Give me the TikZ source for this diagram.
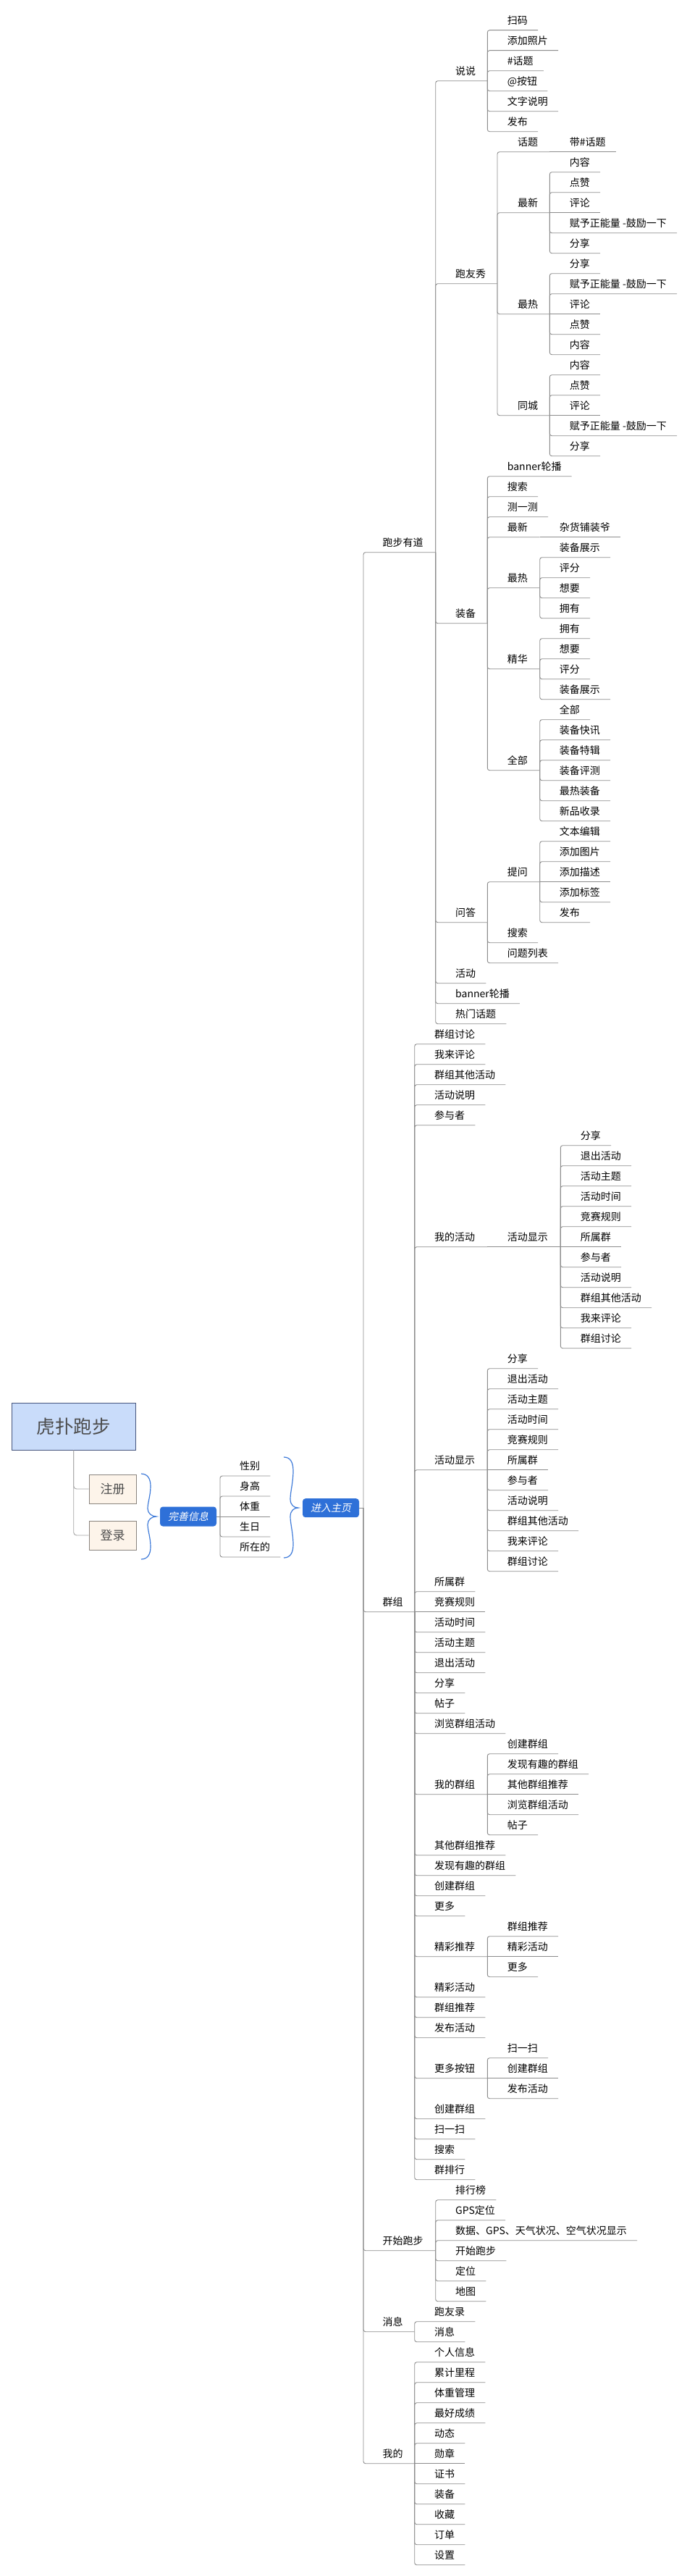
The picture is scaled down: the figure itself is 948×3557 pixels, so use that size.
\documentclass[tikz,border=0pt]{standalone}
\usepackage{fontspec}
\newfontfamily\cjk{Noto Sans CJK SC}
\newfontfamily\cjkit{Noto Sans CJK SC}[FakeSlant=0.2]
\definecolor{lgray}{HTML}{8C8C8C}
\definecolor{rootfill}{HTML}{C9DCFA}
\definecolor{rootdraw}{HTML}{46557E}
\definecolor{regfill}{HTML}{FDF4EA}
\definecolor{regdraw}{HTML}{8A847E}
\definecolor{bluebox}{HTML}{2E70D8}
\definecolor{bracecol}{HTML}{3F7BD9}
\newcommand\ROW[1]{41.7+28*(#1)}
% leaf with rounded corner
\newcommand\lf[5]{%
  \node[lbl] (#1) at (#3,{#4-8.4}) {#5};
  \coordinate (#1-e) at ([xshift=14pt,yshift=-8.4pt]#1.base east);
  \draw[conn] (#2-j) |- (#1-e);}
% leaf on the parent's line
\newcommand\lfs[5]{%
  \node[lbl] (#1) at (#3,{#4-8.4}) {#5};
  \coordinate (#1-e) at ([xshift=14pt,yshift=-8.4pt]#1.base east);
  \draw[conn] (#2-j) -- (#1-e);}
% parent with rounded corner
\newcommand\pn[6]{%
  \node[lbl] (#1) at (#3,{#4-8.4}) {#6};
  \coordinate (#1-j) at (#5,{#4});
  \draw[conn] (#2-j) |- (#1-j);}
% parent on the parent's line
\newcommand\pns[6]{%
  \node[lbl] (#1) at (#3,{#4-8.4}) {#6};
  \coordinate (#1-j) at (#5,{#4});
  \draw[conn] (#2-j) -- (#1-j);}
\begin{document}
\begin{tikzpicture}[x=1pt,y=-1pt,
  lbl/.style={anchor=base west,inner sep=0pt,font=\cjk\fontsize{14pt}{14pt}\selectfont},
  conn/.style={draw=lgray,line width=0.9pt,rounded corners=3pt},
  rootconn/.style={draw=lgray!80,line width=0.9pt,rounded corners=4pt},
  rootbox/.style={draw=rootdraw,fill=rootfill,line width=0.9pt,minimum width=171.5pt,minimum height=65pt,inner sep=0pt,text=black!70,font=\cjk\fontsize{25.5pt}{26pt}\selectfont},
  regbox/.style={draw=regdraw,fill=regfill,line width=0.9pt,minimum width=65pt,minimum height=40pt,inner sep=0pt,text=black!70,font=\cjk\fontsize{17pt}{17pt}\selectfont},
  bluenode/.style={fill=bluebox,rounded corners=4pt,minimum width=78pt,minimum height=27pt,inner sep=0pt,text=white,font=\cjkit\fontsize{14pt}{14pt}\selectfont},
  bracestyle/.style={draw=bracecol,line width=1.2pt}]
\fill[white] (0,0) rectangle (948,3557);
\useasboundingbox (0,0) rectangle (948,3557);

% ---- left part ----
\node[rootbox] (root) at (101.75,1969.5) {虎扑跑步};
\node[regbox] (reg) at (155.5,2056) {注册};
\node[regbox] (login) at (155.5,2120) {登录};
\draw[rootconn] (root.south) |- (reg.west);
\draw[rootconn] (root.south) |- (login.west);
\draw[bracestyle] (195,2035) .. controls (204,2035) and (208,2042) .. (208,2052)
  .. controls (208,2065) and (204,2075) .. (204,2083)
  .. controls (204,2090) and (210,2094) .. (216,2094)
  .. controls (210,2094) and (204,2098) .. (204,2105)
  .. controls (204,2113) and (208,2123) .. (208,2136)
  .. controls (208,2146) and (204,2153) .. (195,2153);
\node[bluenode] (wsx) at (260,2094) {完善信息};
\coordinate (wsx-j) at (304,2094);
\draw[conn] (wsx.east) -- (wsx-j);
\lf{xb}{wsx}{331}{2038}{性别}
\lf{sg}{wsx}{331}{2066}{身高}
\lfs{tz}{wsx}{331}{2094}{体重}
\lf{sr}{wsx}{331}{2122}{生日}
\lf{szd}{wsx}{331}{2150}{所在的}
\draw[bracestyle] (392,2012) .. controls (401,2012) and (405,2019) .. (405,2031)
  .. controls (405,2047) and (401,2060) .. (401,2070)
  .. controls (401,2078) and (406,2082) .. (412,2082)
  .. controls (406,2082) and (401,2086) .. (401,2094)
  .. controls (401,2104) and (405,2117) .. (405,2133)
  .. controls (405,2144) and (401,2151) .. (392,2151);
\node[bluenode,minimum height=26pt] (home) at (457,{\ROW{72.875}}) {进入主页};
\coordinate (home-j) at (502,{\ROW{72.875}});
\draw[conn] (home.east) -- (home-j);

% ---- 跑步有道 ----
\pn{pbyd}{home}{528.3}{\ROW{25.75}}{601.7}{跑步有道}
 \pn{ss}{pbyd}{629}{\ROW{2.5}}{673.3}{说说}
  \lf{ssa}{ss}{700.7}{\ROW{0}}{扫码}
  \lf{ssb}{ss}{700.7}{\ROW{1}}{添加照片}
  \lf{ssc}{ss}{700.7}{\ROW{2}}{\#话题}
  \lf{ssd}{ss}{700.7}{\ROW{3}}{@按钮}
  \lf{sse}{ss}{700.7}{\ROW{4}}{文字说明}
  \lf{ssf}{ss}{700.7}{\ROW{5}}{发布}
 \pn{pyx}{pbyd}{629}{\ROW{12.5}}{687}{跑友秀}
  \pn{ht}{pyx}{715}{\ROW{6}}{759.3}{话题}
   \lfs{hta}{ht}{786.7}{\ROW{6}}{带\#话题}
  \pn{zx}{pyx}{715}{\ROW{9}}{759.3}{最新}
   \lf{zxa}{zx}{786.7}{\ROW{7}}{内容}
   \lf{zxb}{zx}{786.7}{\ROW{8}}{点赞}
   \lfs{zxc}{zx}{786.7}{\ROW{9}}{评论}
   \lf{zxd}{zx}{786.7}{\ROW{10}}{赋予正能量 -鼓励一下}
   \lf{zxe}{zx}{786.7}{\ROW{11}}{分享}
  \pn{zr}{pyx}{715}{\ROW{14}}{759.3}{最热}
   \lf{zra}{zr}{786.7}{\ROW{12}}{分享}
   \lf{zrb}{zr}{786.7}{\ROW{13}}{赋予正能量 -鼓励一下}
   \lfs{zrc}{zr}{786.7}{\ROW{14}}{评论}
   \lf{zrd}{zr}{786.7}{\ROW{15}}{点赞}
   \lf{zre}{zr}{786.7}{\ROW{16}}{内容}
  \pn{tc}{pyx}{715}{\ROW{19}}{759.3}{同城}
   \lf{tca}{tc}{786.7}{\ROW{17}}{内容}
   \lf{tcb}{tc}{786.7}{\ROW{18}}{点赞}
   \lfs{tcc}{tc}{786.7}{\ROW{19}}{评论}
   \lf{tcd}{tc}{786.7}{\ROW{20}}{赋予正能量 -鼓励一下}
   \lf{tce}{tc}{786.7}{\ROW{21}}{分享}
 \pn{zb}{pbyd}{629}{\ROW{29.25}}{673.3}{装备}
  \lf{zba}{zb}{700.7}{\ROW{22}}{banner轮播}
  \lf{zbb}{zb}{700.7}{\ROW{23}}{搜索}
  \lf{zbc}{zb}{700.7}{\ROW{24}}{测一测}
  \pn{zbzx}{zb}{700.7}{\ROW{25}}{745.7}{最新}
   \lfs{zbzxa}{zbzx}{772.7}{\ROW{25}}{杂货铺装爷}
  \pn{zbzr}{zb}{700.7}{\ROW{27.5}}{745.7}{最热}
   \lf{zbzra}{zbzr}{772.7}{\ROW{26}}{装备展示}
   \lf{zbzrb}{zbzr}{772.7}{\ROW{27}}{评分}
   \lf{zbzrc}{zbzr}{772.7}{\ROW{28}}{想要}
   \lf{zbzrd}{zbzr}{772.7}{\ROW{29}}{拥有}
  \pn{jh}{zb}{700.7}{\ROW{31.5}}{745.7}{精华}
   \lf{jha}{jh}{772.7}{\ROW{30}}{拥有}
   \lf{jhb}{jh}{772.7}{\ROW{31}}{想要}
   \lf{jhc}{jh}{772.7}{\ROW{32}}{评分}
   \lf{jhd}{jh}{772.7}{\ROW{33}}{装备展示}
  \pn{qb}{zb}{700.7}{\ROW{36.5}}{745.7}{全部}
   \lf{qba}{qb}{772.7}{\ROW{34}}{全部}
   \lf{qbb}{qb}{772.7}{\ROW{35}}{装备快讯}
   \lf{qbc}{qb}{772.7}{\ROW{36}}{装备特辑}
   \lf{qbd}{qb}{772.7}{\ROW{37}}{装备评测}
   \lf{qbe}{qb}{772.7}{\ROW{38}}{最热装备}
   \lf{qbf}{qb}{772.7}{\ROW{39}}{新品收录}
 \pn{wd}{pbyd}{629}{\ROW{44}}{673.3}{问答}
  \pn{tw}{wd}{700.7}{\ROW{42}}{745.7}{提问}
   \lf{twa}{tw}{772.7}{\ROW{40}}{文本编辑}
   \lf{twb}{tw}{772.7}{\ROW{41}}{添加图片}
   \lfs{twc}{tw}{772.7}{\ROW{42}}{添加描述}
   \lf{twd}{tw}{772.7}{\ROW{43}}{添加标签}
   \lf{twe}{tw}{772.7}{\ROW{44}}{发布}
  \lf{wda}{wd}{700.7}{\ROW{45}}{搜索}
  \lf{wdb}{wd}{700.7}{\ROW{46}}{问题列表}
 \lf{pba}{pbyd}{629}{\ROW{47}}{活动}
 \lf{pbb}{pbyd}{629}{\ROW{48}}{banner轮播}
 \lf{pbc}{pbyd}{629}{\ROW{49}}{热门话题}

% ---- 群组 ----
\pn{qz}{home}{528.3}{\ROW{78}}{572.7}{群组}
 \lf{qza}{qz}{600}{\ROW{50}}{群组讨论}
 \lf{qzb}{qz}{600}{\ROW{51}}{我来评论}
 \lf{qzc}{qz}{600}{\ROW{52}}{群组其他活动}
 \lf{qzd}{qz}{600}{\ROW{53}}{活动说明}
 \lf{qze}{qz}{600}{\ROW{54}}{参与者}
 \pn{wdhd}{qz}{600}{\ROW{60}}{673.3}{我的活动}
  \pns{xsa}{wdhd}{700.7}{\ROW{60}}{774.3}{活动显示}
   \lf{xsa1}{xsa}{801.7}{\ROW{55}}{分享}
   \lf{xsa2}{xsa}{801.7}{\ROW{56}}{退出活动}
   \lf{xsa3}{xsa}{801.7}{\ROW{57}}{活动主题}
   \lf{xsa4}{xsa}{801.7}{\ROW{58}}{活动时间}
   \lf{xsa5}{xsa}{801.7}{\ROW{59}}{竞赛规则}
   \lfs{xsa6}{xsa}{801.7}{\ROW{60}}{所属群}
   \lf{xsa7}{xsa}{801.7}{\ROW{61}}{参与者}
   \lf{xsa8}{xsa}{801.7}{\ROW{62}}{活动说明}
   \lf{xsa9}{xsa}{801.7}{\ROW{63}}{群组其他活动}
   \lf{xsa10}{xsa}{801.7}{\ROW{64}}{我来评论}
   \lf{xsa11}{xsa}{801.7}{\ROW{65}}{群组讨论}
 \pn{xsb}{qz}{600}{\ROW{71}}{673.3}{活动显示}
  \lf{xsb1}{xsb}{700.7}{\ROW{66}}{分享}
  \lf{xsb2}{xsb}{700.7}{\ROW{67}}{退出活动}
  \lf{xsb3}{xsb}{700.7}{\ROW{68}}{活动主题}
  \lf{xsb4}{xsb}{700.7}{\ROW{69}}{活动时间}
  \lf{xsb5}{xsb}{700.7}{\ROW{70}}{竞赛规则}
  \lfs{xsb6}{xsb}{700.7}{\ROW{71}}{所属群}
  \lf{xsb7}{xsb}{700.7}{\ROW{72}}{参与者}
  \lf{xsb8}{xsb}{700.7}{\ROW{73}}{活动说明}
  \lf{xsb9}{xsb}{700.7}{\ROW{74}}{群组其他活动}
  \lf{xsb10}{xsb}{700.7}{\ROW{75}}{我来评论}
  \lf{xsb11}{xsb}{700.7}{\ROW{76}}{群组讨论}
 \lf{qzf}{qz}{600}{\ROW{77}}{所属群}
 \lfs{qzg}{qz}{600}{\ROW{78}}{竞赛规则}
 \lf{qzh}{qz}{600}{\ROW{79}}{活动时间}
 \lf{qzi}{qz}{600}{\ROW{80}}{活动主题}
 \lf{qzj}{qz}{600}{\ROW{81}}{退出活动}
 \lf{qzk}{qz}{600}{\ROW{82}}{分享}
 \lf{qzl}{qz}{600}{\ROW{83}}{帖子}
 \lf{qzm}{qz}{600}{\ROW{84}}{浏览群组活动}
 \pn{wdqz}{qz}{600}{\ROW{87}}{673.3}{我的群组}
  \lf{wdqza}{wdqz}{700.7}{\ROW{85}}{创建群组}
  \lf{wdqzb}{wdqz}{700.7}{\ROW{86}}{发现有趣的群组}
  \lfs{wdqzc}{wdqz}{700.7}{\ROW{87}}{其他群组推荐}
  \lf{wdqzd}{wdqz}{700.7}{\ROW{88}}{浏览群组活动}
  \lf{wdqze}{wdqz}{700.7}{\ROW{89}}{帖子}
 \lf{qzn}{qz}{600}{\ROW{90}}{其他群组推荐}
 \lf{qzo}{qz}{600}{\ROW{91}}{发现有趣的群组}
 \lf{qzp}{qz}{600}{\ROW{92}}{创建群组}
 \lf{qzq}{qz}{600}{\ROW{93}}{更多}
 \pn{jctj}{qz}{600}{\ROW{95}}{673.3}{精彩推荐}
  \lf{jctja}{jctj}{700.7}{\ROW{94}}{群组推荐}
  \lfs{jctjb}{jctj}{700.7}{\ROW{95}}{精彩活动}
  \lf{jctjc}{jctj}{700.7}{\ROW{96}}{更多}
 \lf{qzr}{qz}{600}{\ROW{97}}{精彩活动}
 \lf{qzs}{qz}{600}{\ROW{98}}{群组推荐}
 \lf{qzt}{qz}{600}{\ROW{99}}{发布活动}
 \pn{gdan}{qz}{600}{\ROW{101}}{673.3}{更多按钮}
  \lf{gdana}{gdan}{700.7}{\ROW{100}}{扫一扫}
  \lfs{gdanb}{gdan}{700.7}{\ROW{101}}{创建群组}
  \lf{gdanc}{gdan}{700.7}{\ROW{102}}{发布活动}
 \lf{qzu}{qz}{600}{\ROW{103}}{创建群组}
 \lf{qzv}{qz}{600}{\ROW{104}}{扫一扫}
 \lf{qzw}{qz}{600}{\ROW{105}}{搜索}
 \lf{qzx}{qz}{600}{\ROW{106}}{群排行}

% ---- 开始跑步 ----
\pn{kspb}{home}{528.3}{\ROW{109.5}}{601.7}{开始跑步}
 \lf{kspba}{kspb}{629}{\ROW{107}}{排行榜}
 \lf{kspbb}{kspb}{629}{\ROW{108}}{GPS定位}
 \lf{kspbc}{kspb}{629}{\ROW{109}}{数据、GPS、天气状况、空气状况显示}
 \lf{kspbd}{kspb}{629}{\ROW{110}}{开始跑步}
 \lf{kspbe}{kspb}{629}{\ROW{111}}{定位}
 \lf{kspbf}{kspb}{629}{\ROW{112}}{地图}

% ---- 消息 ----
\pn{xx}{home}{528.3}{\ROW{113.5}}{572.7}{消息}
 \lf{xxa}{xx}{600}{\ROW{113}}{跑友录}
 \lf{xxb}{xx}{600}{\ROW{114}}{消息}

% ---- 我的 ----
\pn{wode}{home}{528.3}{\ROW{120}}{572.7}{我的}
 \lf{wodea}{wode}{600}{\ROW{115}}{个人信息}
 \lf{wodeb}{wode}{600}{\ROW{116}}{累计里程}
 \lf{wodec}{wode}{600}{\ROW{117}}{体重管理}
 \lf{woded}{wode}{600}{\ROW{118}}{最好成绩}
 \lf{wodee}{wode}{600}{\ROW{119}}{动态}
 \lfs{wodef}{wode}{600}{\ROW{120}}{勋章}
 \lf{wodeg}{wode}{600}{\ROW{121}}{证书}
 \lf{wodeh}{wode}{600}{\ROW{122}}{装备}
 \lf{wodei}{wode}{600}{\ROW{123}}{收藏}
 \lf{wodej}{wode}{600}{\ROW{124}}{订单}
 \lf{wodek}{wode}{600}{\ROW{125}}{设置}
\end{tikzpicture}
\end{document}
